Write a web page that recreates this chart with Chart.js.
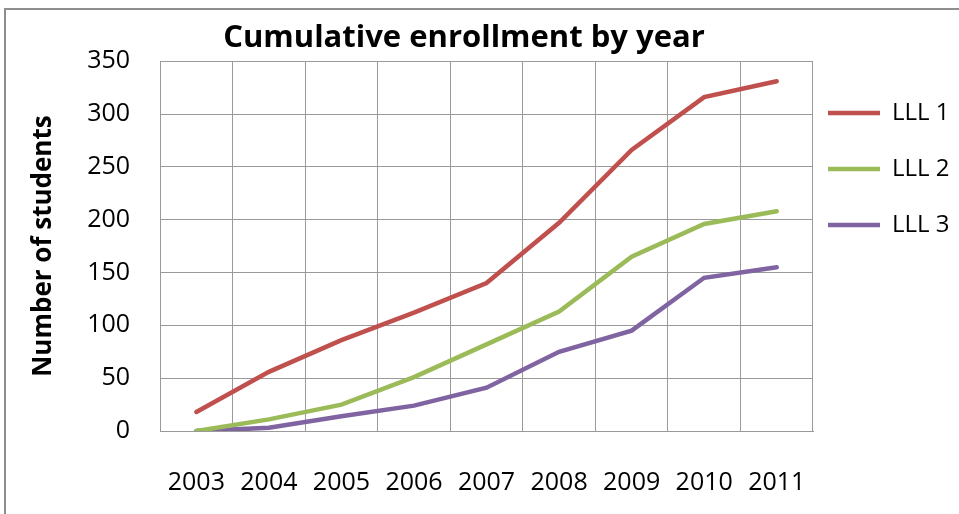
<!DOCTYPE html>
<html>
<head>
<meta charset="utf-8">
<script src="https://cdn.jsdelivr.net/npm/chart.js@4/dist/chart.umd.min.js"></script>
<style>
  html, body { margin: 0; padding: 0; background: #fff; }
  #wrap { position: relative; width: 959px; height: 514px; overflow: hidden; }
  #frame { position: absolute; left: 4px; top: 8px; width: 1000px; height: 1000px; border: 2px solid #8e8e8e; }
  canvas { position: absolute; left: 0; top: 0; }
</style>
</head>
<body>
<div id="wrap">
  <div id="frame"></div>
  <canvas id="chart" width="959" height="514"></canvas>
</div>
<script>
const years = ["2003", "2004", "2005", "2006", "2007", "2008", "2009", "2010", "2011"];
const lll1 = [18, 56, 86, 112, 140, 197, 266, 316, 331];
const lll2 = [0, 11, 25, 51, 82, 113, 165, 196, 208];
const lll3 = [0, 3, 14, 24, 41, 75, 95, 145, 155];
const seriesNames = ["LLL 1", "LLL 2", "LLL 3"];
const colors = ["#c0504d", "#9bbb59", "#8064a2"];

const font = "'Open Sans', Lato, sans-serif";

(function () {
    const series = [lll1, lll2, lll3];

    new Chart(document.getElementById("chart"), {
        type: "line",
        data: {
            labels: years,
            datasets: series.map((values, i) => ({
                label: seriesNames[i],
                data: values,
                borderColor: colors[i],
                backgroundColor: colors[i],
                borderWidth: 4.5,
                borderCapStyle: "round",
                pointRadius: 0,
                tension: 0,
            })),
        },
        options: {
            responsive: false,
            animation: false,
            // negative left/bottom padding shifts the title centre and lets the axes reach the frame
            layout: { padding: { left: -31, right: 0, top: 0, bottom: -21 } },
            plugins: {
                title: {
                    display: true,
                    text: "Cumulative enrollment by year",
                    color: "#000",
                    font: { family: font, size: 31, weight: "bold" },
                    padding: { top: 20, bottom: 4 },
                },
                legend: {
                    position: "right",
                    align: "start",
                    maxWidth: 146,
                    title: { display: true, text: " ", font: { size: 10 }, padding: { top: 37, bottom: 37 } },
                    labels: {
                        color: "#000",
                        font: { family: font, size: 24, lineHeight: 1.708 },
                        usePointStyle: true,
                        pointStyle: "line",
                        pointStyleWidth: 52,
                        padding: 15,
                        generateLabels: (chart) =>
                            Chart.defaults.plugins.legend.labels
                                .generateLabels(chart)
                                .map((item) => ({ ...item, text: [item.text] })),
                    },
                },
                tooltip: { enabled: false },
            },
            scales: {
                x: {
                    offset: true,
                    grid: { color: "#9a9a9a", offset: true, drawTicks: false },
                    border: { color: "#9a9a9a" },
                    ticks: {
                        color: "#000",
                        font: { family: font, size: 25 },
                        padding: 37,
                        maxRotation: 0,
                    },
                },
                y: {
                    min: 0,
                    max: 350,
                    grid: { color: "#9a9a9a", drawTicks: false },
                    border: { color: "#9a9a9a" },
                    ticks: {
                        stepSize: 50,
                        color: "#000",
                        font: { family: font, size: 25 },
                        padding: 30,
                    },
                    title: {
                        display: true,
                        text: "Number of students",
                        color: "#000",
                        font: { family: font, size: 26, weight: "bold" },
                        padding: { top: 59, bottom: -2 },
                    },
                },
            },
        },
    });
})();
</script>
</body>
</html>
